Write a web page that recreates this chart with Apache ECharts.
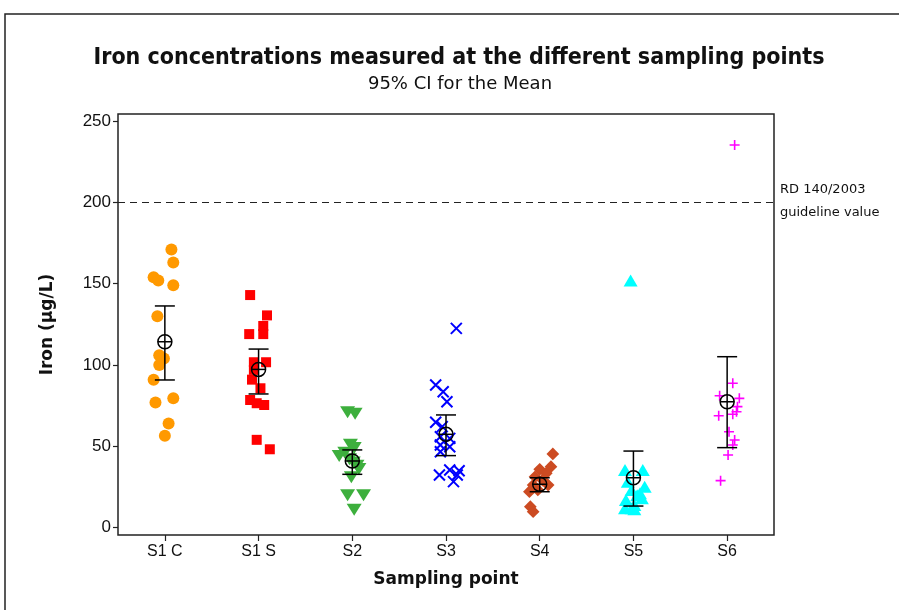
<!DOCTYPE html>
<html>
<head>
<meta charset="utf-8">
<title>Iron concentrations</title>
<script src="https://cdn.jsdelivr.net/npm/echarts@6/dist/echarts.min.js"></script>
<style>
  html, body { margin: 0; padding: 0; background: #fff; }
  #chart { width: 899px; height: 610px; }
</style>
</head>
<body>
<div id="chart"></div>
<script>
// Sampling points along the x axis
const categories = ['S1 C', 'S1 S', 'S2', 'S3', 'S4', 'S5', 'S6'];
const yTicks = [0, 50, 100, 150, 200, 250];

// Individual iron measurements (µg/L) per sampling point,
// with a small horizontal jitter (in category units) to separate overlapping points
const s1cValues = [171, 163, 154, 152, 149, 130, 106, 104, 100, 91, 79.5, 77, 64, 56.5];
const s1cJitter = [0.07, 0.09, -0.12, -0.07, 0.09, -0.08, -0.06, -0.01, -0.06, -0.12, 0.09, -0.10, 0.04, 0.00];

const s1sValues = [143, 130.5, 124, 119, 119, 101.7, 101.7, 97, 91, 85.7, 78.5, 76.5, 75.4, 54, 48.2];
const s1sJitter = [-0.09, 0.09, 0.05, 0.05, -0.10, 0.08, -0.05, -0.05, -0.07, 0.02, -0.09, -0.02, 0.06, -0.02, 0.12];

const s2Values = [71, 70, 51, 49, 46, 44, 42, 40, 38, 36, 31, 20, 20, 11];
const s2Jitter = [-0.05, 0.03, -0.02, 0.02, -0.08, -0.14, -0.03, 0.01, 0.05, 0.07, -0.01, -0.05, 0.12, 0.02];

const s3Values = [122.5, 87.7, 83.6, 77.4, 64.8, 62.1, 55.9, 54.9, 50.8, 49.8, 46.7, 35.5, 35, 32.4, 32.4, 28.3];
const s3Jitter = [0.11, -0.11, -0.03, 0.01, -0.11, -0.04, -0.06, 0.04, -0.06, 0.04, -0.06, 0.04, 0.14, -0.07, 0.12, 0.08];

const s4Values = [45.3, 37.5, 35.9, 33.4, 31.3, 29.3, 26.2, 26.2, 23.2, 22.1, 12.9, 9.8];
const s4Jitter = [0.14, 0.12, 0.00, 0.07, -0.05, 0.03, 0.09, -0.07, -0.02, -0.11, -0.10, -0.07];

const s5Values = [152, 35.5, 35.5, 28.3, 25.2, 23.2, 21.1, 20, 18.1, 17, 14, 11.9, 11.9, 11.3];
const s5Jitter = [-0.03, -0.09, 0.10, -0.06, 0.12, -0.02, 0.07, 0.04, 0.09, -0.08, 0.01, -0.09, -0.02, 0.01];

const s6Values = [235.2, 88.8, 81.1, 79.5, 74.4, 71.3, 68.8, 69.7, 59, 53.9, 50.8, 44.7, 28.9];
const s6Jitter = [0.08, 0.06, -0.08, 0.13, 0.11, 0.10, -0.09, 0.06, 0.02, 0.08, 0.06, 0.01, -0.07];

// 95% confidence interval for the mean at each sampling point
const ciLower = [90.8, 82.2, 32.8, 44.3, 22.1, 13.3, 49.2];
const ciMean  = [114.3, 97.3, 41.0, 57.4, 26.7, 30.7, 77.4];
const ciUpper = [136.3, 109.8, 47.8, 69.3, 30.7, 47.1, 105.1];

// Guideline value (RD 140/2003)
const guidelineValue = 200;

function pointsFor(index, values, jitter) {
  return values.map((v, k) => [index + jitter[k], v]);
}

const crossPath = 'path://M0,0L10,10M10,0L0,10';
const plusPath = 'path://M5,0L5,10M0,5L10,5';

const groups = [
  { values: s1cValues, jitter: s1cJitter, color: '#FF9900', symbol: 'circle', size: 12 },
  { values: s1sValues, jitter: s1sJitter, color: '#FF0000', symbol: 'rect', size: 10 },
  { values: s2Values, jitter: s2Jitter, color: '#3DAF3D', symbol: 'triangle', size: [15, 12], rotate: 180 },
  { values: s3Values, jitter: s3Jitter, color: '#0000FF', symbol: crossPath, size: 11, stroke: 2 },
  { values: s4Values, jitter: s4Jitter, color: '#CC4B22', symbol: 'rect', size: 9, rotate: 45 },
  { values: s5Values, jitter: s5Jitter, color: '#00FFFF', symbol: 'triangle', size: [14, 12] },
  { values: s6Values, jitter: s6Jitter, color: '#FF00FF', symbol: plusPath, size: 10, stroke: 1.6 }
];

const scatterSeries = groups.map((g, i) => ({
  type: 'scatter',
  name: categories[i],
  data: pointsFor(i, g.values, g.jitter),
  symbol: g.symbol,
  symbolSize: g.size,
  symbolRotate: g.rotate || 0,
  itemStyle: g.stroke
    ? { color: 'rgba(0,0,0,0)', borderColor: g.color, borderWidth: g.stroke, opacity: 1 }
    : { color: g.color, opacity: 1 },
  z: 2,
  silent: true
}));

const ciData = categories.map((c, i) => [i, ciLower[i], ciMean[i], ciUpper[i]]);

const ciSeries = {
  type: 'custom',
  name: '95% CI',
  data: ciData,
  z: 5,
  silent: true,
  encode: { x: 0, y: [1, 2, 3] },
  renderItem: function (params, api) {
    const x = api.value(0);
    const lo = api.coord([x, api.value(1)]);
    const mid = api.coord([x, api.value(2)]);
    const hi = api.coord([x, api.value(3)]);
    const cap = 10;
    const r = 7;
    const style = { stroke: '#000', lineWidth: 1.5, fill: null };
    return {
      type: 'group',
      children: [
        { type: 'line', shape: { x1: lo[0], y1: lo[1], x2: hi[0], y2: hi[1] }, style },
        { type: 'line', shape: { x1: lo[0] - cap, y1: lo[1], x2: lo[0] + cap, y2: lo[1] }, style },
        { type: 'line', shape: { x1: hi[0] - cap, y1: hi[1], x2: hi[0] + cap, y2: hi[1] }, style },
        { type: 'circle', shape: { cx: mid[0], cy: mid[1], r: r }, style },
        { type: 'line', shape: { x1: mid[0] - r, y1: mid[1], x2: mid[0] + r, y2: mid[1] }, style }
      ]
    };
  }
};

const guideSeries = {
  type: 'line',
  data: [],
  silent: true,
  markLine: {
    silent: true,
    symbol: 'none',
    label: { show: false },
    lineStyle: { color: '#222', width: 1.2, type: [7, 5] },
    data: [{ yAxis: guidelineValue }]
  }
};

const tahoma = '"DejaVu Sans", Verdana, sans-serif';
const tahomaNarrow = '"DejaVu Sans Condensed", "DejaVu Sans", Verdana, sans-serif';
const arial = '"Liberation Sans", Arial, sans-serif';

const chart = echarts.init(document.getElementById('chart'), null, { renderer: 'canvas' });
chart.setOption({
  animation: false,
  backgroundColor: '#fff',
  grid: {
    left: 118, right: 125, top: 114, bottom: 75,
    show: true, borderColor: '#222', borderWidth: 1.5, backgroundColor: '#fff'
  },
  xAxis: {
    type: 'value',
    min: -0.5,
    max: 6.5,
    splitLine: { show: false },
    axisLine: { show: false, onZero: false },
    axisTick: {
      show: true, length: 6, lineStyle: { color: '#222', width: 1.2 },
      customValues: categories.map((c, i) => i)
    },
    axisLabel: {
      customValues: categories.map((c, i) => i),
      formatter: v => categories[Math.round(v)],
      fontFamily: arial, fontSize: 16, color: '#111', margin: 9
    },
    name: 'Sampling point',
    nameLocation: 'middle',
    nameGap: 36,
    nameTextStyle: { fontFamily: tahoma, fontWeight: 'bold', fontSize: 17, color: '#111' }
  },
  yAxis: {
    type: 'value',
    min: -4.5,
    max: 254.3,
    splitLine: { show: false },
    axisLine: { show: false, onZero: false },
    axisTick: {
      show: true, length: 5, lineStyle: { color: '#222', width: 1.2 },
      customValues: yTicks
    },
    axisLabel: {
      customValues: yTicks,
      fontFamily: arial, fontSize: 17, color: '#111', margin: 7
    },
    name: 'Iron (µg/L)',
    nameLocation: 'middle',
    nameRotate: 90,
    nameGap: 62,
    nameTextStyle: { fontFamily: tahoma, fontWeight: 'bold', fontSize: 17, color: '#111' }
  },
  series: [guideSeries].concat(scatterSeries, [ciSeries]),
  graphic: [
    {
      type: 'rect', silent: true, z: -10,
      shape: { x: 5, y: 14, width: 1000, height: 1000 },
      style: { fill: null, stroke: '#222', lineWidth: 1.5 }
    },
    {
      type: 'text', silent: true,
      x: 459, y: 58,
      style: {
        text: 'Iron concentrations measured at the different sampling points',
        fontFamily: tahomaNarrow, fontWeight: 'bold', fontSize: 23, fill: '#111',
        textAlign: 'center', textVerticalAlign: 'middle'
      }
    },
    {
      type: 'text', silent: true,
      x: 460, y: 84,
      style: {
        text: '95% CI for the Mean',
        fontFamily: tahoma, fontSize: 18, fill: '#111',
        textAlign: 'center', textVerticalAlign: 'middle'
      }
    },
    {
      type: 'text', silent: true,
      x: 780, y: 190,
      style: {
        text: 'RD 140/2003', fontFamily: tahoma, fontSize: 13, fill: '#111',
        textAlign: 'left', textVerticalAlign: 'middle'
      }
    },
    {
      type: 'text', silent: true,
      x: 780, y: 213,
      style: {
        text: 'guideline value', fontFamily: tahoma, fontSize: 13, fill: '#111',
        textAlign: 'left', textVerticalAlign: 'middle'
      }
    }
  ]
});
</script>
</body>
</html>
